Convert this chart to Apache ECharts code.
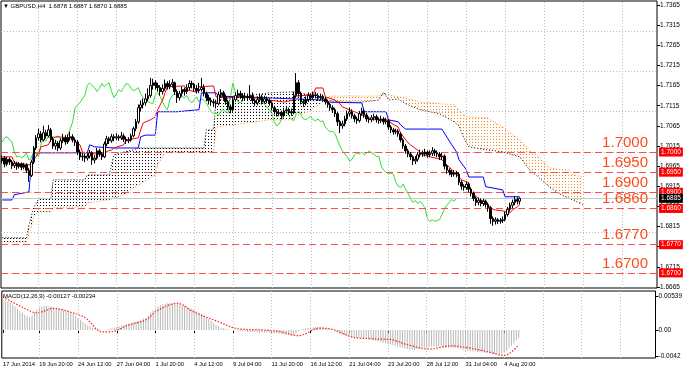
<!DOCTYPE html>
<html><head><meta charset="utf-8">
<script src="https://cdn.jsdelivr.net/npm/echarts/dist/echarts.min.js"></script>
<style>html,body{margin:0;padding:0;background:#fff}#c{width:685px;height:373px}</style>
</head><body><div id="c"></div>
<script>
const opens = [1.6978,1.6985,1.6970,1.6982,1.6975,1.6966,1.6972,1.6964,1.6970,1.6962,1.6968,1.6955,1.6942,1.6975,1.7010,1.7035,1.7045,1.7030,1.7048,1.7040,1.7055,1.7032,1.7015,1.7022,1.7010,1.7028,1.7035,1.7025,1.7035,1.7038,1.7030,1.7025,1.7000,1.6988,1.6990,1.6985,1.6990,1.6998,1.6980,1.6985,1.7003,1.6995,1.6988,1.7020,1.7033,1.7028,1.7038,1.7035,1.7038,1.7035,1.7040,1.7032,1.7028,1.7030,1.7040,1.7058,1.7075,1.7110,1.7117,1.7122,1.7132,1.7140,1.7165,1.7172,1.7165,1.7160,1.7150,1.7158,1.7170,1.7162,1.7168,1.7172,1.7150,1.7135,1.7145,1.7155,1.7150,1.7160,1.7170,1.7168,1.7158,1.7152,1.7155,1.7160,1.7145,1.7135,1.7128,1.7125,1.7122,1.7120,1.7142,1.7147,1.7138,1.7125,1.7112,1.7105,1.7130,1.7140,1.7145,1.7140,1.7135,1.7138,1.7135,1.7140,1.7128,1.7122,1.7130,1.7137,1.7125,1.7132,1.7128,1.7122,1.7110,1.7100,1.7095,1.7098,1.7090,1.7102,1.7105,1.7100,1.7097,1.7140,1.7172,1.7145,1.7125,1.7122,1.7130,1.7140,1.7135,1.7142,1.7140,1.7135,1.7138,1.7132,1.7125,1.7118,1.7110,1.7105,1.7095,1.7075,1.7065,1.7070,1.7082,1.7095,1.7100,1.7090,1.7082,1.7078,1.7095,1.7102,1.7092,1.7082,1.7080,1.7085,1.7088,1.7080,1.7078,1.7082,1.7075,1.7078,1.7062,1.7055,1.7050,1.7052,1.7045,1.7030,1.7015,1.7003,1.6995,1.6988,1.6978,1.6982,1.6993,1.6998,1.6995,1.7000,1.6993,1.6997,1.7003,1.6998,1.6995,1.6988,1.6990,1.6965,1.6955,1.6950,1.6945,1.6948,1.6945,1.6925,1.6915,1.6912,1.6920,1.6908,1.6898,1.6885,1.6875,1.6880,1.6872,1.6878,1.6870,1.6862,1.6835,1.6828,1.6832,1.6828,1.6830,1.6832,1.6845,1.6858,1.6868,1.6875,1.6882,1.6878];
const highs = [1.6992,1.6990,1.6988,1.6986,1.6980,1.6978,1.6976,1.6975,1.6974,1.6973,1.6972,1.6960,1.6980,1.7015,1.7042,1.7058,1.7052,1.7065,1.7055,1.7067,1.7060,1.7038,1.7030,1.7027,1.7034,1.7045,1.7042,1.7044,1.7050,1.7044,1.7036,1.7030,1.7006,1.6998,1.6996,1.6997,1.7005,1.7002,1.6992,1.7010,1.7008,1.7000,1.7026,1.7040,1.7038,1.7045,1.7044,1.7047,1.7043,1.7050,1.7046,1.7038,1.7037,1.7046,1.7063,1.7082,1.7118,1.7128,1.7133,1.7145,1.7158,1.7184,1.7182,1.7178,1.7172,1.7166,1.7168,1.7180,1.7176,1.7178,1.7181,1.7175,1.7155,1.7152,1.7162,1.7160,1.7168,1.7178,1.7177,1.7172,1.7166,1.7172,1.7184,1.7168,1.7150,1.7142,1.7135,1.7132,1.7130,1.7150,1.7156,1.7152,1.7143,1.7130,1.7118,1.7136,1.7148,1.7155,1.7152,1.7146,1.7147,1.7145,1.7166,1.7148,1.7133,1.7138,1.7145,1.7142,1.7140,1.7138,1.7133,1.7126,1.7115,1.7106,1.7106,1.7103,1.7110,1.7113,1.7110,1.7108,1.7150,1.7196,1.7178,1.7150,1.7132,1.7138,1.7148,1.7146,1.7150,1.7149,1.7146,1.7145,1.7143,1.7137,1.7130,1.7122,1.7116,1.7110,1.7100,1.7080,1.7078,1.7090,1.7103,1.7110,1.7106,1.7095,1.7088,1.7102,1.7110,1.7106,1.7097,1.7088,1.7092,1.7095,1.7093,1.7086,1.7090,1.7087,1.7085,1.7082,1.7067,1.7060,1.7058,1.7057,1.7049,1.7034,1.7020,1.7008,1.7000,1.6992,1.6990,1.7000,1.7006,1.7004,1.7008,1.7004,1.7004,1.7012,1.7008,1.7004,1.7000,1.6998,1.6994,1.6970,1.6960,1.6955,1.6955,1.6953,1.6950,1.6930,1.6920,1.6927,1.6924,1.6912,1.6902,1.6890,1.6887,1.6885,1.6884,1.6882,1.6875,1.6866,1.6840,1.6838,1.6836,1.6836,1.6840,1.6852,1.6864,1.6874,1.6882,1.6890,1.6888,1.6887];
const lows = [1.6972,1.6962,1.6965,1.6968,1.6958,1.6960,1.6956,1.6959,1.6955,1.6957,1.6948,1.6926,1.6938,1.6970,1.7005,1.7028,1.7024,1.7026,1.7033,1.7036,1.7025,1.7008,1.7006,1.7002,1.7005,1.7022,1.7018,1.7020,1.7028,1.7024,1.7015,1.6993,1.6980,1.6978,1.6975,1.6979,1.6984,1.6968,1.6972,1.6981,1.6988,1.6980,1.6985,1.7014,1.7020,1.7023,1.7027,1.7030,1.7028,1.7030,1.7025,1.7020,1.7022,1.7026,1.7036,1.7052,1.7070,1.7100,1.7108,1.7115,1.7126,1.7135,1.7155,1.7155,1.7150,1.7140,1.7143,1.7152,1.7155,1.7156,1.7160,1.7142,1.7122,1.7128,1.7138,1.7140,1.7144,1.7154,1.7158,1.7150,1.7145,1.7146,1.7150,1.7138,1.7126,1.7118,1.7115,1.7112,1.7108,1.7116,1.7135,1.7130,1.7117,1.7104,1.7096,1.7100,1.7125,1.7135,1.7132,1.7126,1.7128,1.7127,1.7130,1.7120,1.7114,1.7116,1.7124,1.7118,1.7120,1.7121,1.7115,1.7103,1.7093,1.7088,1.7089,1.7082,1.7086,1.7096,1.7092,1.7090,1.7094,1.7135,1.7138,1.7118,1.7112,1.7116,1.7124,1.7128,1.7130,1.7133,1.7127,1.7128,1.7125,1.7118,1.7110,1.7102,1.7097,1.7087,1.7065,1.7047,1.7058,1.7064,1.7077,1.7088,1.7083,1.7074,1.7070,1.7073,1.7090,1.7085,1.7075,1.7072,1.7074,1.7078,1.7073,1.7070,1.7072,1.7068,1.7069,1.7055,1.7047,1.7043,1.7044,1.7038,1.7024,1.7008,1.6996,1.6987,1.6980,1.6968,1.6970,1.6976,1.6987,1.6988,1.6989,1.6986,1.6987,1.6990,1.6990,1.6987,1.6980,1.6980,1.6957,1.6946,1.6942,1.6938,1.6939,1.6937,1.6918,1.6906,1.6904,1.6906,1.6900,1.6890,1.6878,1.6866,1.6868,1.6865,1.6866,1.6862,1.6852,1.6822,1.6817,1.6820,1.6821,1.6822,1.6824,1.6828,1.6840,1.6852,1.6860,1.6868,1.6870,1.6870];
const closes = [1.6985,1.6970,1.6982,1.6975,1.6966,1.6972,1.6964,1.6970,1.6962,1.6968,1.6955,1.6942,1.6975,1.7010,1.7035,1.7045,1.7030,1.7048,1.7040,1.7055,1.7032,1.7015,1.7022,1.7010,1.7028,1.7035,1.7025,1.7035,1.7038,1.7030,1.7025,1.7000,1.6988,1.6990,1.6985,1.6990,1.6998,1.6980,1.6985,1.7003,1.6995,1.6988,1.7020,1.7033,1.7028,1.7038,1.7035,1.7038,1.7035,1.7040,1.7032,1.7028,1.7030,1.7040,1.7058,1.7075,1.7110,1.7117,1.7122,1.7132,1.7140,1.7165,1.7172,1.7165,1.7160,1.7150,1.7158,1.7170,1.7162,1.7168,1.7172,1.7150,1.7135,1.7145,1.7155,1.7150,1.7160,1.7170,1.7168,1.7158,1.7152,1.7155,1.7160,1.7145,1.7135,1.7128,1.7125,1.7122,1.7120,1.7142,1.7147,1.7138,1.7125,1.7112,1.7105,1.7130,1.7140,1.7145,1.7140,1.7135,1.7138,1.7135,1.7140,1.7128,1.7122,1.7130,1.7137,1.7125,1.7132,1.7128,1.7122,1.7110,1.7100,1.7095,1.7098,1.7090,1.7102,1.7105,1.7100,1.7097,1.7140,1.7172,1.7145,1.7125,1.7122,1.7130,1.7140,1.7135,1.7142,1.7140,1.7135,1.7138,1.7132,1.7125,1.7118,1.7110,1.7105,1.7095,1.7075,1.7065,1.7070,1.7082,1.7095,1.7100,1.7090,1.7082,1.7078,1.7095,1.7102,1.7092,1.7082,1.7080,1.7085,1.7088,1.7080,1.7078,1.7082,1.7075,1.7078,1.7062,1.7055,1.7050,1.7052,1.7045,1.7030,1.7015,1.7003,1.6995,1.6988,1.6978,1.6982,1.6993,1.6998,1.6995,1.7000,1.6993,1.6997,1.7003,1.6998,1.6995,1.6988,1.6990,1.6965,1.6955,1.6950,1.6945,1.6948,1.6945,1.6925,1.6915,1.6912,1.6920,1.6908,1.6898,1.6885,1.6875,1.6880,1.6872,1.6878,1.6870,1.6862,1.6835,1.6828,1.6832,1.6828,1.6830,1.6832,1.6845,1.6858,1.6868,1.6875,1.6882,1.6878,1.6885];

// Ichimoku lines: [bar index, price]
const tenkan = [[0,1.6988],[4,1.6988],[5,1.6973],[12,1.6968],[13,1.6981],[15,1.6998],[16,1.7013],[19,1.7018],[20,1.7030],[22,1.7038],[29,1.7035],[30,1.7025],[32,1.7018],[33,1.7000],[35,1.6998],[41,1.6993],[42,1.7000],[45,1.7005],[46,1.7010],[50,1.7018],[51,1.7030],[56,1.7035],[57,1.7055],[58,1.7072],[61,1.7080],[63,1.7087],[64,1.7105],[66,1.7129],[67,1.7147],[68,1.7162],[75,1.7164],[76,1.7154],[80,1.7149],[81,1.7162],[87,1.7164],[88,1.7137],[92,1.7134],[97,1.7137],[105,1.7134],[110,1.7129],[116,1.7124],[120,1.7129],[121,1.7139],[128,1.7142],[129,1.7159],[132,1.7159],[133,1.7137],[137,1.7129],[139,1.7120],[140,1.7112],[145,1.7100],[150,1.7087],[152,1.7082],[159,1.7080],[160,1.7072],[163,1.7062],[164,1.7047],[167,1.7023],[168,1.7018],[172,1.7000],[173,1.6993],[181,1.6981],[183,1.6968],[186,1.6951],[188,1.6938],[189,1.6931],[192,1.6924],[193,1.6899],[197,1.6881],[199,1.6874],[201,1.6861],[203,1.6856],[206,1.6854],[209,1.6849],[210,1.6856],[212,1.6864],[213,1.6869]];
const kijun = [[0,1.6881],[4,1.6881],[5,1.6894],[11,1.6901],[12,1.6973],[13,1.6998],[35,1.6998],[36,1.7018],[38,1.7013],[46,1.7010],[56,1.7010],[57,1.7038],[59,1.7042],[63,1.7042],[64,1.7100],[72,1.7100],[81,1.7105],[82,1.7147],[88,1.7147],[89,1.7139],[97,1.7137],[111,1.7134],[132,1.7129],[133,1.7124],[148,1.7122],[149,1.7100],[158,1.7100],[159,1.7080],[163,1.7075],[164,1.7067],[166,1.7057],[181,1.7057],[182,1.7047],[185,1.7018],[187,1.7000],[188,1.6981],[191,1.6956],[192,1.6938],[198,1.6938],[199,1.6914],[206,1.6906],[207,1.6889],[213,1.6889]];
const cloudIdx = [0,10,11,13,15,20,21,34,35,44,46,50,54,56,63,64,67,83,84,87,88,98,104,110,119,121,126,133,135,140,148,155,156,157,158,159,163,166,172,180,186,188,190,192,200,201,206,213,217,221,225,230,233,235,239];
const spanA = [1.6787,1.6787,1.6819,1.6862,1.6884,1.6884,1.6931,1.6931,1.6943,1.6943,1.6993,1.7000,1.7005,1.7010,1.7010,1.7010,1.7010,1.7010,1.7055,1.7055,1.7129,1.7137,1.7142,1.7147,1.7149,1.7149,1.7142,1.7129,1.7127,1.7124,1.7124,1.7129,1.7139,1.7149,1.7139,1.7129,1.7132,1.7120,1.7105,1.7095,1.7075,1.7065,1.7035,1.7013,1.7005,1.7005,1.7000,1.6988,1.6956,1.6936,1.6914,1.6894,1.6886,1.6881,1.6869];
const spanB = [1.6777,1.6777,1.6795,1.6839,1.6852,1.6852,1.6862,1.6864,1.6874,1.6881,1.6886,1.6894,1.6911,1.6918,1.6943,1.6968,1.7000,1.7000,1.7000,1.7000,1.7062,1.7070,1.7075,1.7080,1.7080,1.7092,1.7100,1.7129,1.7139,1.7139,1.7139,1.7139,1.7142,1.7142,1.7144,1.7142,1.7137,1.7134,1.7124,1.7120,1.7117,1.7105,1.7092,1.7087,1.7085,1.7080,1.7062,1.7030,1.7005,1.6986,1.6961,1.6956,1.6956,1.6943,1.6938];

const macdMain = [0.0048,0.0047,0.0045,0.0043,0.0040,0.0037,0.0033,0.0030,0.0027,0.0024,
0.0022,0.0020,0.0023,0.0028,0.0032,0.0035,0.0037,
0.0038,0.0038,0.0037,0.0037,0.0035,0.0034,0.0033,
0.0032,0.0031,0.0030,0.0028,0.0027,0.0025,0.0022,0.0019,0.0016,0.0013,0.0010,0.0008,
0.0006,0.0004,0.0003,0.0002,0.0001,0.0000,0.0000,
0.0001,0.0002,0.0003,0.0004,0.0005,0.0006,0.0007,0.0008,
0.0009,0.0010,0.0011,0.0012,0.0013,0.0014,0.0016,0.0018,0.0019,
0.0023,0.0027,0.0031,0.0034,0.0037,
0.0039,0.0040,0.0041,0.0042,0.0042,0.0042,0.0041,0.0041,
0.0040,0.0039,0.0038,0.0036,0.0034,0.0033,0.0031,
0.0029,0.0027,0.0025,0.0023,0.0020,0.0017,0.0014,0.0011,0.0008,0.0006,
0.0004,0.0003,0.0002,0.0001,0.0000,0.0000,
-0.0001,-0.0001,-0.0002,-0.0002,-0.0002,-0.0003,-0.0003,-0.0003,-0.0003,-0.0004,-0.0004,-0.0004,-0.0004,-0.0004,-0.0004,-0.0005,-0.0005,-0.0005,-0.0006,
-0.0006,-0.0007,-0.0008,-0.0008,-0.0009,-0.0008,-0.0005,-0.0002,0.0001,0.0002,0.0003,0.0003,
0.0004,0.0004,0.0005,0.0005,0.0005,0.0004,0.0003,0.0002,0.0001,
0.0000,-0.0002,-0.0004,-0.0006,-0.0007,-0.0008,-0.0009,-0.0010,-0.0011,-0.0012,-0.0012,
-0.0012,-0.0012,-0.0013,-0.0013,-0.0014,-0.0015,-0.0016,-0.0017,-0.0018,-0.0019,-0.0020,-0.0021,-0.0022,-0.0023,
-0.0024,-0.0025,-0.0026,-0.0027,-0.0028,-0.0029,-0.0030,-0.0031,-0.0031,-0.0031,-0.0030,-0.0030,
-0.0029,-0.0028,-0.0028,-0.0027,-0.0026,-0.0026,-0.0026,-0.0026,-0.0026,
-0.0027,-0.0028,-0.0028,-0.0028,-0.0028,-0.0028,-0.0029,-0.0030,-0.0031,
-0.0032,-0.0033,-0.0033,-0.0034,-0.0034,-0.0035,-0.0035,-0.0035,-0.0036,-0.0036,
-0.0037,-0.0038,-0.0038,-0.0038,-0.0038,-0.0037,-0.0036,
-0.0033,-0.0029,-0.0025,-0.0021,-0.0016,-0.00127];
const macdSignal = [[0,0.0052],[9,0.0034],[14,0.0027],[21,0.0034],[28,0.0028],[34,0.0019],[41,-0.0003],[44,-0.0003],[52,0.0008],[59,0.0016],[64,0.0031],[72,0.0042],[79,0.0028],[89,0.0013],[97,0.0002],[108,0.0000],[115,-0.0003],[122,-0.0009],[131,0.0003],[137,0.0000],[144,-0.0011],[153,-0.0014],[160,-0.0015],[167,-0.0023],[176,-0.0030],[185,-0.0025],[192,-0.0028],[200,-0.0034],[207,-0.0040],[213,-0.00234]];

const levels = [1.7000,1.6950,1.6900,1.6860,1.6770,1.6700];
const levelLabels = ['1.7000','1.6950','1.6900','1.6860','1.6770','1.6700'];
const lastPrice = 1.6885;
const lastPriceLabel = '1.6885';
const priceTicks = [1.7365,1.7315,1.7265,1.7215,1.7165,1.7115,1.7065,1.7015,1.6965,1.6915,1.6865,1.6815,1.6765,1.6715,1.6665];
const macdTicks = [0.00539,0,-0.0042];
const macdTickLabels = ['0.00539','0.00','-0.0042'];
const tickIdx = [0,15,31,47,63,79,95,111,127,143,159,175,191,207];
const tickLabels = ['17 Jun 2014','19 Jun 20:00','24 Jun 12:00','27 Jun 04:00','1 Jul 20:00','4 Jul 12:00','9 Jul 04:00','11 Jul 20:00','16 Jul 12:00','21 Jul 04:00','23 Jul 20:00','28 Jul 12:00','31 Jul 04:00','4 Aug 20:00'];
const gridIdx = [15,31,47,63,79,95,111,127,143,159,175,191,207,223,239,255];
const SLOTS = 270;
const SHIFT = 26;
const titleText = '\u25BC GBPUSD,H4  1.6878 1.6887 1.6870 1.6885';
const macdTitle = 'MACD(12,26,9) -0.00127 -0.00234';

const FONT = '"Liberation Sans", Arial, sans-serif';
const cats = Array.from({length: SLOTS}, (_, i) => String(i));
const candleData = closes.map((c, i) => [opens[i], c, lows[i], highs[i]]);
const chikou = closes.slice(SHIFT).map((c, k) => [k, c]);

function dots(color) {
  const cv = document.createElement('canvas');
  cv.width = 3; cv.height = 3;
  const g = cv.getContext('2d');
  g.fillStyle = color; g.fillRect(1, 1, 1, 1);
  return cv;
}
const patA = { image: dots('#000000'), repeat: 'repeat' };
const patB = { image: dots('#ff7f00'), repeat: 'repeat' };

const chart = echarts.init(document.getElementById('c'), null, { renderer: 'canvas' });
const small = { fontSize: 6.5, color: '#000', fontFamily: FONT };

const boxLabel = (txt, bg) => ({ show: true, position: 'end', distance: 2, formatter: txt, backgroundColor: bg, color: '#fff', fontSize: 6.5, fontFamily: FONT, padding: [1, 2, 1, 2] });
const levelItems = [];
levels.forEach((v, k) => {
  levelItems.push({ yAxis: v, lineStyle: { color: '#ff4d4d', type: [7, 4], width: 1.2 }, label: boxLabel(levelLabels[k], '#ff0000') });
});
levels.forEach((v, k) => {
  levelItems.push({ yAxis: v, lineStyle: { color: 'rgba(255,255,255,0)', width: 0.1 },
    label: { show: true, position: 'insideEndTop', distance: 2, formatter: levelLabels[k], color: '#ff4a1c', fontSize: 15, fontFamily: FONT, padding: [0, 7, 0, 0] } });
});
levelItems.push({ yAxis: lastPrice, lineStyle: { color: '#c8c8c8', type: 'solid', width: 1 }, label: boxLabel(lastPriceLabel, '#000000') });

chart.setOption({
  animation: false,
  backgroundColor: '#ffffff',
  title: [
    { text: titleText, left: 3, top: 3, padding: 0, textStyle: { fontSize: 6, fontWeight: 'normal', color: '#000', fontFamily: FONT } },
    { text: macdTitle, left: 3, top: 293, padding: 0, textStyle: { fontSize: 6, fontWeight: 'normal', color: '#000', fontFamily: FONT } }
  ],
  grid: [
    { left: 1, right: 28, top: 1, height: 287, show: true, borderColor: '#000', borderWidth: 1, backgroundColor: 'transparent' },
    { left: 1, right: 28, top: 291, height: 67, show: true, borderColor: '#000', borderWidth: 1, backgroundColor: 'transparent' }
  ],
  xAxis: [
    { type: 'category', gridIndex: 0, data: cats, boundaryGap: true, axisLine: { show: false }, axisTick: { show: false }, axisLabel: { show: false }, splitLine: { show: false } },
    { type: 'category', gridIndex: 1, data: cats, boundaryGap: true, axisLine: { show: false },
      axisTick: { show: true, alignWithLabel: true, interval: (i) => tickIdx.includes(i), length: 3, lineStyle: { color: '#000' } },
      axisLabel: { interval: (i) => tickIdx.includes(i), formatter: (v, i) => tickLabels[tickIdx.indexOf(i)] || '', align: 'left', margin: 3, fontSize: 5.8, color: '#000', fontFamily: FONT },
      splitLine: { show: false } }
  ],
  yAxis: [
    { type: 'value', gridIndex: 0, position: 'right', min: 1.66625, max: 1.73749, splitLine: { show: false }, axisLine: { show: false },
      axisTick: { show: true, customValues: priceTicks, length: 3, lineStyle: { color: '#000' } },
      axisLabel: Object.assign({ customValues: priceTicks, formatter: (v) => v.toFixed(4), margin: 3 }, small) },
    { type: 'value', gridIndex: 1, position: 'right', min: -0.00441, max: 0.00614, splitLine: { show: false }, axisLine: { show: false },
      axisTick: { show: true, customValues: macdTicks, length: 3, lineStyle: { color: '#000' } },
      axisLabel: Object.assign({ customValues: macdTicks, formatter: (v) => { const k = macdTicks.findIndex(t => Math.abs(t - v) < 1e-7); return k >= 0 ? macdTickLabels[k] : ''; }, margin: 3 }, small) }
  ],
  series: [
    { type: 'line', xAxisIndex: 0, yAxisIndex: 0, data: [], z: 0, silent: true,
      markLine: { silent: true, symbol: 'none', animation: false, label: { show: false },
        lineStyle: { color: '#bdbdbd', type: [1, 2], width: 1 },
        data: [...priceTicks.map(v => ({ yAxis: v })), ...gridIdx.map(i => ({ xAxis: i }))] } },
    { type: 'line', xAxisIndex: 1, yAxisIndex: 1, data: [], z: 0, silent: true,
      markLine: { silent: true, symbol: 'none', animation: false, label: { show: false },
        lineStyle: { color: '#bdbdbd', type: [1, 2], width: 1 },
        data: gridIdx.map(i => ({ xAxis: i })) } },
    { type: 'custom', xAxisIndex: 0, yAxisIndex: 0, z: 1, silent: true,
      data: cloudIdx.slice(0, -1).map((x, k) => [x, spanA[k], spanB[k]]),
      renderItem: function (params, api) {
        const k = params.dataIndex;
        const p1 = api.coord([cloudIdx[k], spanA[k]]);
        const p2 = api.coord([cloudIdx[k + 1], spanA[k + 1]]);
        const p3 = api.coord([cloudIdx[k + 1], spanB[k + 1]]);
        const p4 = api.coord([cloudIdx[k], spanB[k]]);
        const d = (spanA[k] - spanB[k]) + (spanA[k + 1] - spanB[k + 1]);
        return { type: 'polygon', shape: { points: [p1, p2, p3, p4] }, style: { fill: d >= 0 ? patA : patB, stroke: null } };
      } },
    { type: 'line', xAxisIndex: 0, yAxisIndex: 0, data: cloudIdx.map((x, k) => [x, spanB[k]]), symbol: 'none', z: 2, silent: true,
      lineStyle: { color: '#ff8c1a', type: [1, 2], width: 1 } },
    { type: 'line', xAxisIndex: 0, yAxisIndex: 0, data: cloudIdx.map((x, k) => [x, spanA[k]]), symbol: 'none', z: 2, silent: true,
      lineStyle: { color: '#000000', type: [1, 2], width: 1 } },
    { type: 'line', xAxisIndex: 0, yAxisIndex: 0, data: chikou, symbol: 'none', z: 4, silent: true, lineStyle: { color: '#2fe02f', width: 1 } },
    { type: 'line', xAxisIndex: 0, yAxisIndex: 0, data: kijun, symbol: 'none', z: 4, silent: true, lineStyle: { color: '#0000ff', width: 1 } },
    { type: 'line', xAxisIndex: 0, yAxisIndex: 0, data: tenkan, symbol: 'none', z: 4, silent: true, lineStyle: { color: '#ff0000', width: 1 } },
    { type: 'candlestick', xAxisIndex: 0, yAxisIndex: 0, data: candleData, barWidth: 2, z: 5, silent: true,
      itemStyle: { color: '#ffffff', color0: '#000000', borderColor: '#000000', borderColor0: '#000000', borderWidth: 1 } },
    { type: 'line', xAxisIndex: 0, yAxisIndex: 0, data: [], z: 6, silent: true,
      markLine: { silent: true, symbol: 'none', animation: false, precision: 4, data: levelItems } },
    { type: 'bar', xAxisIndex: 1, yAxisIndex: 1, data: macdMain, barWidth: 1, z: 2, silent: true, itemStyle: { color: '#b8b8b8' } },
    { type: 'line', xAxisIndex: 1, yAxisIndex: 1, data: macdSignal, symbol: 'none', smooth: 0.35, z: 3, silent: true,
      lineStyle: { color: '#ff2020', type: [1.5, 1.5], width: 1.2 } }
  ]
});
</script>
</body></html>
